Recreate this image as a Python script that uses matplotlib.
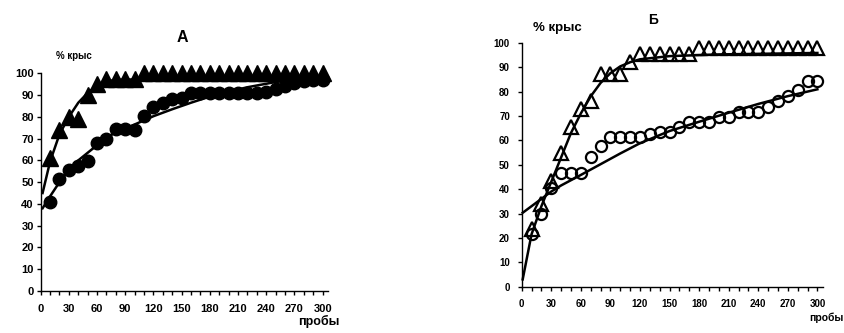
import matplotlib
matplotlib.use("Agg")
import matplotlib.pyplot as plt
import numpy as np

plt.rcParams['font.family'] = ['Liberation Sans', 'DejaVu Sans']
plt.rcParams['font.weight'] = 'bold'

# ---------------- data ----------------
trials = list(range(10, 301, 10))

# Panel A
a_triangles = [61, 74, 80, 79, 90, 95, 97.5, 97.5, 97.5, 97.5] + [100] * 20
a_circles = [41, 51.5, 55.5, 57.5, 59.5, 68, 70, 74.5, 74.5, 74, 80.5, 84.5, 86.5, 88, 88.5,
             91, 91, 91, 91, 91, 91, 91, 91, 91.5, 93, 94, 95.5, 96.5, 97, 97]
a_tri_fit_x = [2, 10, 20, 30, 40, 50, 60, 70, 80, 100, 150, 200, 300]
a_tri_fit_y = [45, 59.5, 72, 80, 86.5, 91, 94.5, 96.3, 97, 97.2, 97.4, 97.5, 97.5]
a_circ_fit_x = [2, 10, 20, 30, 40, 50, 60, 70, 80, 100, 120, 140, 160, 180, 200, 220, 250, 275, 300]
a_circ_fit_y = [38, 43.5, 50, 55.5, 60, 63.5, 67, 70.3, 73, 76.5, 80.3, 83.5, 86.5, 89.3, 91.6, 93.6, 96, 97.2, 98]

# Panel Б
b_triangles = [23.5, 34, 43.5, 55, 65.5, 73, 76, 87, 87, 87, 92,
               95.5, 95.5, 95.5, 95.5, 95.5, 95.5] + [98] * 13
b_circles = [21.5, 30, 40.5, 46.5, 46.5, 46.5, 53, 57.5, 61.5, 61.5, 61.5, 61.5, 62.5, 63.5, 63.5,
             65.5, 67.5, 67.5, 67.5, 69.5, 69.5, 71.5, 71.5, 71.5, 73.5, 76, 78, 80.5, 84.5, 84.5]
b_tri_fit_x = [1, 10, 20, 30, 40, 50, 60, 70, 80, 90, 100, 110, 120, 150, 200, 300]
b_tri_fit_y = [3, 21.5, 33, 43, 53, 63, 71, 78, 83.5, 87.5, 90.3, 92, 93.2, 94.5, 95.2, 95.8]
b_circ_fit_x = [1, 10, 20, 30, 40, 60, 80, 100, 120, 150, 180, 210, 240, 270, 300]
b_circ_fit_y = [30.3, 33, 36, 39, 41.5, 45.8, 50.2, 54.6, 58.8, 63.8, 67.6, 71.3, 74.9, 78.1, 80.9]

y_ticks = list(range(0, 101, 10))
x_major = list(range(0, 301, 30))
x_minor = list(range(0, 301, 10))

W, H = 844, 333
fig = plt.figure(figsize=(W / 100, H / 100), dpi=100)


def px(x0, y0, x1, y1):
    return [x0 / W, 1 - y1 / H, (x1 - x0) / W, (y1 - y0) / H]


def style_axes(ax, fs, ypad, xpad, ticklen):
    ax.set_xlim(0, 306)
    ax.set_ylim(0, 100)
    for s in ['top', 'right']:
        ax.spines[s].set_visible(False)
    for s in ['left', 'bottom']:
        ax.spines[s].set_linewidth(1.0)
    ax.set_yticks(y_ticks)
    ax.set_xticks(x_major)
    ax.set_xticks(x_minor, minor=True)
    ax.tick_params(axis='y', direction='out', length=ticklen, width=1, labelsize=fs, pad=ypad)
    ax.tick_params(axis='x', which='both', direction='out', length=ticklen, width=1, labelsize=fs, pad=xpad)
    for lab in ax.get_xticklabels() + ax.get_yticklabels():
        lab.set_fontweight('bold')
    ax.patch.set_alpha(0)


# ---------------- Panel A ----------------
ax1 = fig.add_axes(px(40.7, 73.3, 328.3, 291))
style_axes(ax1, 8, 2, 6.5, 3)
ax1.plot(a_tri_fit_x, a_tri_fit_y, color='black', lw=1.8, zorder=2, clip_on=False)
ax1.plot(a_circ_fit_x, a_circ_fit_y, color='black', lw=1.8, zorder=2, clip_on=False)
ax1.plot(trials, a_circles, ls='none', marker='o', ms=9, color='black', zorder=3, clip_on=False)
ax1.plot(trials, a_triangles, ls='none', marker='^', ms=11.5, color='black', zorder=3, clip_on=False)

fig.text(182.7 / W, 1 - 38 / H, 'А', ha='center', va='center', fontsize=11.5, fontweight='bold')
fig.text(73.5 / W, 1 - 56 / H, '% крыс', ha='center', va='center', fontsize=7, fontweight='bold')
fig.text(319 / W, 1 - 321.7 / H, 'пробы', ha='center', va='center', fontsize=9, fontweight='bold')

# ---------------- Panel Б ----------------
ax2 = fig.add_axes(px(521.7, 42.7, 823.3, 286.7))
style_axes(ax2, 7, 5.5, 5.5, 3)
ax2.plot(b_tri_fit_x, b_tri_fit_y, color='black', lw=1.8, zorder=2, clip_on=False)
ax2.plot(b_circ_fit_x, b_circ_fit_y, color='black', lw=1.8, zorder=2, clip_on=False)
ax2.plot(trials, b_circles, ls='none', marker='o', ms=8, mfc='none', mec='black', mew=1.6,
         zorder=3, clip_on=False)
ax2.plot(trials, b_triangles, ls='none', marker='^', ms=10, mfc='none', mec='black', mew=1.6,
         zorder=3, clip_on=False)

fig.text(653 / W, 1 - 20 / H, 'Б', ha='center', va='center', fontsize=10, fontweight='bold')
fig.text(557.5 / W, 1 - 28 / H, '% крыс', ha='center', va='center', fontsize=9.5, fontweight='bold')
fig.text(826.5 / W, 1 - 318 / H, 'пробы', ha='center', va='center', fontsize=7.5, fontweight='bold')

fig.savefig('out.png', dpi=100)
